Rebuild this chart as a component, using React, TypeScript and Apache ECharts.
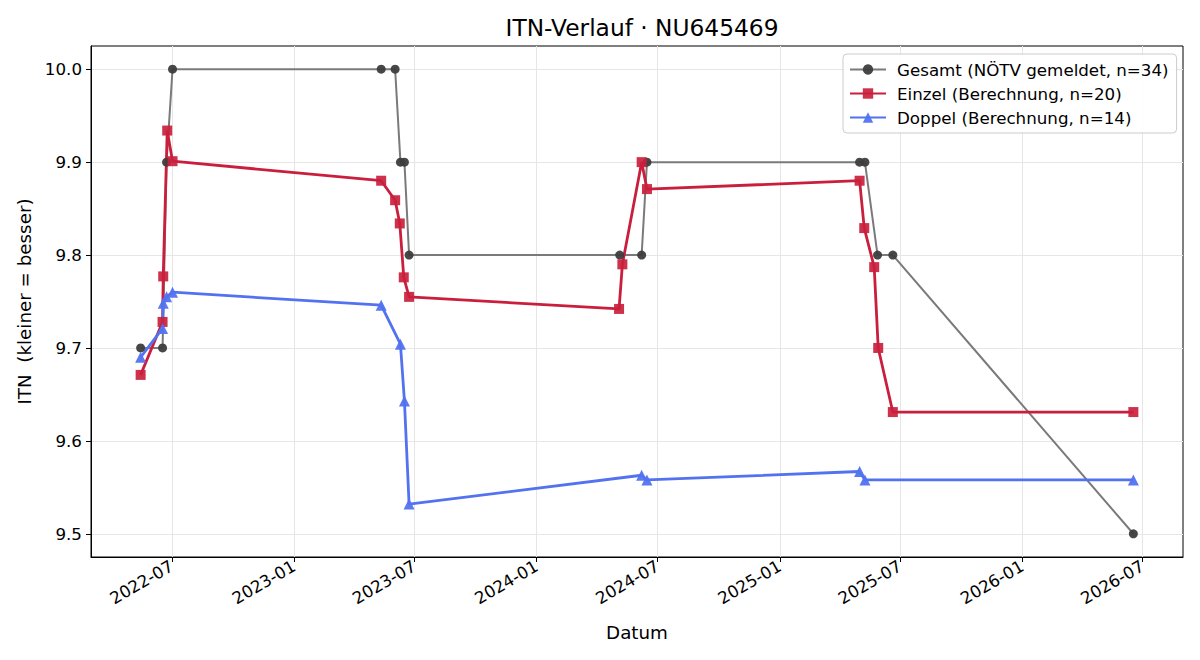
import React, { useEffect, useRef } from "react";
import * as echarts from "echarts";

const gesamtDates = ["2022-05-15","2022-06-17","2022-06-23","2022-07-02","2023-05-12","2023-06-02","2023-06-10","2023-06-16","2023-06-23","2024-05-05","2024-06-07","2024-06-15","2025-05-01","2025-05-09","2025-05-28","2025-06-20","2026-06-17"];
const gesamtValues = [9.7, 9.7, 9.9, 10.0, 10.0, 10.0, 9.9, 9.9, 9.8, 9.8, 9.8, 9.9, 9.9, 9.9, 9.8, 9.8, 9.5];

const einzelDates = ["2022-05-15","2022-06-17","2022-06-18","2022-06-24","2022-07-02","2023-05-12","2023-06-02","2023-06-09","2023-06-15","2023-06-23","2024-05-04","2024-05-09","2024-06-07","2024-06-15","2025-05-01","2025-05-08","2025-05-23","2025-05-29","2025-06-20","2026-06-17"];
const einzelValues = [9.671, 9.728, 9.777, 9.934, 9.901, 9.88, 9.859, 9.834, 9.776, 9.755, 9.742, 9.79, 9.9, 9.871, 9.88, 9.829, 9.787, 9.7, 9.631, 9.631];

const doppelDates = ["2022-05-15","2022-06-17","2022-06-18","2022-06-23","2022-07-02","2023-05-12","2023-06-10","2023-06-16","2023-06-23","2024-06-07","2024-06-15","2025-05-01","2025-05-09","2026-06-17"];
const doppelValues = [9.69, 9.721, 9.748, 9.755, 9.76, 9.746, 9.704, 9.643, 9.532, 9.563, 9.558, 9.567, 9.558, 9.558];

const xTickLabels = ["2022-07","2023-01","2023-07","2024-01","2024-07","2025-01","2025-07","2026-01","2026-07"];
const yTickValues = [9.5, 9.6, 9.7, 9.8, 9.9, 10.0];

const seriesNames = ["Gesamt (NÖTV gemeldet, n=34)", "Einzel (Berechnung, n=20)", "Doppel (Berechnung, n=14)"];

const FONT = "DejaVu Sans";

function toMs(d: string) {
  return new Date(d + "T00:00:00Z").getTime();
}
function pairs(dates: string[], vals: number[]) {
  return dates.map((d, i) => [toMs(d), vals[i]]);
}
function fmtMonth(v: number) {
  const d = new Date(v);
  const m = d.getUTCMonth() + 1;
  return d.getUTCFullYear() + "-" + (m < 10 ? "0" + m : "" + m);
}

export default function App() {
  const ref = useRef<HTMLDivElement>(null);
  useEffect(() => {
    if (!ref.current) return;
    const chart = echarts.init(ref.current, null, { renderer: "svg" });
    const all = [...gesamtDates, ...einzelDates, ...doppelDates].map(toMs);
    const xMinD = Math.min(...all);
    const xMaxD = Math.max(...all);
    const pad = (xMaxD - xMinD) * 0.05;
    const allV = [...gesamtValues, ...einzelValues, ...doppelValues];
    const yMinD = Math.min(...allV);
    const yMaxD = Math.max(...allV);
    const yPad = (yMaxD - yMinD) * 0.05;
    const xTicks = xTickLabels.map((s) => toMs(s + "-01"));
    const textStyle = { fontFamily: FONT, color: "#000", fontSize: 16.7 };
    const nameStyle = { fontFamily: FONT, color: "#000", fontSize: 18.3 };

    chart.setOption({
      animation: false,
      backgroundColor: "#fff",
      textStyle: { fontFamily: FONT },
      title: {
        text: "ITN-Verlauf · NU645469",
        left: 637,
        textAlign: "center",
        top: 11,
        textStyle: { fontFamily: FONT, fontSize: 23.3, fontWeight: "normal", color: "#000" },
      },
      legend: {
        orient: "vertical",
        left: 843,
        top: 54,
        padding: [7, 8, 7, 6],
        itemGap: 7,
        itemWidth: 36,
        itemHeight: 13,
        align: "left",
        backgroundColor: "rgba(255,255,255,0.85)",
        borderColor: "#cccccc",
        borderWidth: 1,
        borderRadius: 4,
        textStyle: { ...textStyle, padding: [0, 0, 0, 6] },
        data: seriesNames,
      },
      grid: {
        left: 91,
        right: 17,
        top: 46,
        bottom: 103,
        show: true,
        borderColor: "#000",
        borderWidth: 1,
        backgroundColor: "transparent",
      },
      xAxis: {
        type: "value",
        min: xMinD - pad,
        max: xMaxD + pad,
        name: "Datum",
        nameLocation: "middle",
        nameGap: 66,
        nameTextStyle: nameStyle,
        axisLine: { show: true, onZero: false, lineStyle: { color: "#000", width: 1 } },
        axisTick: { show: true, length: 5, inside: false, lineStyle: { color: "#000" }, customValues: xTicks },
        axisLabel: {
          customValues: xTicks,
          rotate: 30,
          margin: 8,
          formatter: (v: number) => fmtMonth(v),
          ...textStyle,
        },
        splitLine: { show: true, lineStyle: { color: "#e6e6e6", width: 1 } },
      },
      yAxis: {
        type: "value",
        min: yMinD - yPad,
        max: yMaxD + yPad,
        name: "ITN  (kleiner = besser)",
        nameLocation: "middle",
        nameGap: 57,
        nameTextStyle: nameStyle,
        axisLine: { show: true, onZero: false, lineStyle: { color: "#000", width: 1 } },
        axisTick: { show: true, length: 5, inside: false, lineStyle: { color: "#000" }, customValues: yTickValues },
        axisLabel: {
          customValues: yTickValues,
          margin: 9,
          formatter: (v: number) => v.toFixed(1),
          ...textStyle,
        },
        splitLine: { show: true, lineStyle: { color: "#e6e6e6", width: 1 } },
      },
      series: [
        {
          name: seriesNames[0],
          type: "line",
          data: pairs(gesamtDates, gesamtValues),
          symbol: "circle",
          symbolSize: 9,
          itemStyle: { color: "#3d3d3d", opacity: 0.95 },
          lineStyle: { color: "#7a7a7a", width: 2 },
          emphasis: { disabled: true },
        },
        {
          name: seriesNames[1],
          type: "line",
          data: pairs(einzelDates, einzelValues),
          symbol: "rect",
          symbolSize: 10,
          itemStyle: { color: "#c91f3d", opacity: 0.92 },
          lineStyle: { color: "#c91f3d", width: 2.8 },
          emphasis: { disabled: true },
        },
        {
          name: seriesNames[2],
          type: "line",
          data: pairs(doppelDates, doppelValues),
          symbol: "triangle",
          symbolSize: 11,
          itemStyle: { color: "#5272f0", opacity: 0.95 },
          lineStyle: { color: "#5272f0", width: 2.8 },
          emphasis: { disabled: true },
        },
      ],
    });
    return () => chart.dispose();
  }, []);
  return (
    <div
      ref={ref}
      style={{ position: "fixed", left: 0, top: 0, width: 1200, height: 660, background: "#fff" }}
    />
  );
}
